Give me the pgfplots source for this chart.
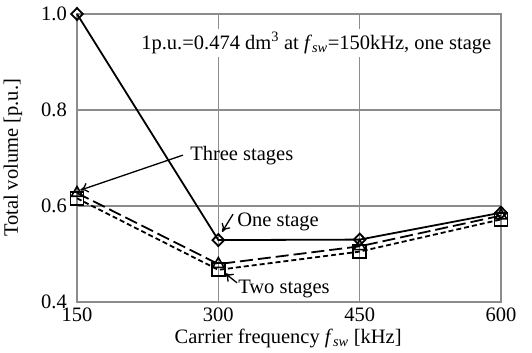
\documentclass[border=0pt]{standalone}
\usepackage{fontspec}
\setmainfont{Liberation Serif}
\usepackage{pgfplots}
\pgfplotsset{compat=1.18}
\usetikzlibrary{arrows.meta}
\begin{document}
\fontsize{20.5bp}{24bp}\selectfont
\begin{tikzpicture}
\path (0,0) rectangle (532bp,353bp);
\begin{axis}[
  at={(77bp,51bp)}, anchor=south west,
  scale only axis, width=424bp, height=288bp,
  xmin=150, xmax=600, ymin=0.4, ymax=1.0,
  xtick={150,300,450,600}, ytick={0.4,0.6,0.8,1.0},
  /pgf/number format/assume math mode=true,
  yticklabel style={/pgf/number format/fixed,/pgf/number format/precision=1,/pgf/number format/fixed zerofill, inner sep=1bp, xshift=-9bp},
  xticklabel style={inner sep=1bp, yshift=-5bp},
  major tick length=0pt,
  grid=major,
  grid style={color=black!45, line width=1.3bp},
  axis line style={color=black!45, line width=1.3bp},
  clip=false,
  xlabel={Carrier frequency \textit{f}\textsubscript{\textit{sw}} [kHz]},
  ylabel={Total volume [p.u.]},
  xlabel style={at={(axis description cs:0.498,-0.125)}, anchor=center, inner sep=0pt},
  ylabel style={at={(axis description cs:-0.151,0.5)}, anchor=center, inner sep=0pt},
  tick label style={font=\fontsize{20.5bp}{24bp}\selectfont},
  label style={font=\fontsize{20.5bp}{24bp}\selectfont},
]
\addplot[black, line width=1.8bp, dash pattern=on 5bp off 3bp, mark=square, mark size=6.5bp, mark options={solid, fill=white, line width=1.8bp}]
  coordinates {(150,0.616) (300,0.467) (450,0.505) (600,0.572)};
\addplot[black, line width=1.8bp, dash pattern=on 13bp off 5bp, mark=triangle, mark size=6.5bp, mark options={solid, fill=white, line width=1.6bp}]
  coordinates {(150,0.627) (300,0.479) (450,0.516) (600,0.580)};
\addplot[black, line width=1.8bp, mark=diamond, mark size=6bp, mark options={solid, fill=white, line width=1.8bp, xscale=1.3}]
  coordinates {(150,1.0) (300,0.529) (450,0.530) (600,0.586)};
\node[fill=white, inner sep=3bp, font=\fontsize{20.5bp}{24bp}\selectfont] at (axis cs:404,0.94)
  {1p.u.=0.474 dm\textsuperscript{3} at \textit{f}\textsubscript{\textit{sw}}=150kHz, one stage};
\node[anchor=west, inner sep=0pt, font=\fontsize{20.5bp}{24bp}\selectfont] at (axis cs:270,0.706) {Three stages};
\draw[-{To[length=8bp,width=10bp]}, line width=1.3bp] (axis cs:262.5,0.706) -- (axis cs:153.5,0.633);
\node[anchor=west, inner sep=0pt, font=\fontsize{20.5bp}{24bp}\selectfont] at (axis cs:320,0.567) {One stage};
\draw[-{To[length=8bp,width=10bp]}, line width=1.3bp] (axis cs:315.6,0.583) -- (axis cs:304,0.546);
\node[anchor=west, inner sep=0pt, font=\fontsize{20.5bp}{24bp}\selectfont] at (axis cs:321,0.427) {Two stages};
\draw[-{To[length=8bp,width=10bp]}, line width=1.3bp] (axis cs:319.8,0.440) -- (axis cs:307,0.460);
\end{axis}
\end{tikzpicture}
\end{document}
